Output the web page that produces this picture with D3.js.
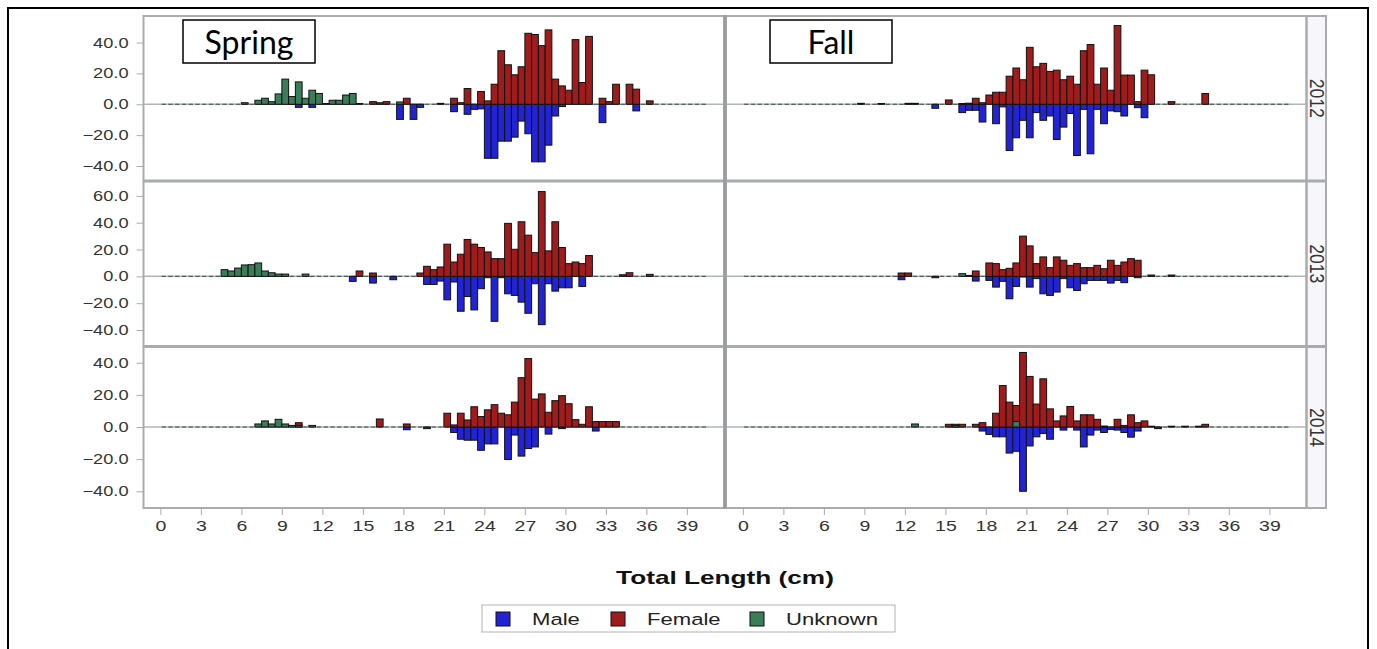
<!DOCTYPE html>
<html>
<head>
<meta charset="utf-8">
<script src="https://cdn.jsdelivr.net/npm/d3@7"></script>
<style>
  body { margin: 0; background: #fff; }
  svg { display: block; font-family: "Liberation Sans", Arial, sans-serif; }
</style>
</head>
<body>
<svg id="chart" width="1377" height="649"></svg>
<script>
// length bins (cm), 0.5 cm wide
const lengths = d3.range(0, 40.5, 0.5);
const seasons = ["Spring", "Fall"];
const years = ["2012", "2013", "2014"];
const sexes = ["Male", "Female", "Unknown"];
const sexColors = ["#2323d6", "#a01c1c", "#3b7d5b"];
const xTicks = [0, 3, 6, 9, 12, 15, 18, 21, 24, 27, 30, 33, 36, 39];
const yTicks2012 = [40, 20, 0, -20, -40];
const yTicks2013 = [60, 40, 20, 0, -20, -40];
const yTicks2014 = [40, 20, 0, -20, -40];

// [length, value] for the non-empty bins
const springMale2012 = [[10,-2],[11,-2],[17.5,-9.8],[18.5,-9.8],[19,-2],[21.5,-4.8],[22.5,-6.5],[23,-3.3],[23.5,-3],[24,-35],[24.5,-35],[25,-23.9],[25.5,-23.9],[26,-21.3],[26.5,-10.9],[27,-19.1],[27.5,-37.3],[28,-37.3],[28.5,-26.5],[29,-7.6],[29.5,-1.5],[32.5,-11.9],[35,-4.3]];
const springFemale2012 = [[9.5,4.3],[15.5,1.7],[16,1],[16.5,1.7],[18,3.9],[20.5,0.6],[21.5,3.9],[22,1],[22.5,10.2],[23.5,8.3],[24,2.2],[24.5,13],[25,34.7],[25.5,25.6],[26,19.1],[26.5,24.3],[27,46],[27.5,45.2],[28,38],[28.5,48.2],[29,16.3],[29.5,11.9],[30,9.1],[30.5,41.9],[31,14.1],[31.5,44],[32.5,3.9],[33,1.7],[33.5,13],[34.5,13],[35,9.8],[36,2.2]];
const springUnknown2012 = [[6,1],[7,2.6],[7.5,3.9],[8,1.7],[8.5,6.7],[9,16.3],[9.5,5],[10,14.5],[10.5,3.9],[11,9.1],[11.5,7],[12,0.5],[12.5,2.6],[13,2.6],[13.5,6],[14,7],[14.5,0.5],[17.5,1.5]];

const fallMale2012 = [[14,-2.6],[16,-5.4],[16.5,-3.9],[17,-3.9],[17.5,-11.5],[18.5,-12.6],[19,-1.7],[19.5,-30],[20,-21.7],[20.5,-10.4],[21,-21.7],[21.5,-5.4],[22,-10.4],[22.5,-7.6],[23,-22.8],[23.5,-14.8],[24,-6],[24.5,-33.2],[25,-3.3],[25.5,-32.1],[26,-3.3],[26.5,-12.6],[27,-4.3],[27.5,-4.8],[28,-7.6],[29,-2.2],[29.5,-8.7]];
const fallFemale2012 = [[8.5,0.6],[10,0.5],[12,0.6],[12.5,0.6],[15,2.8],[16,0.5],[16.5,0.7],[17,3.9],[17.5,1],[18,6],[18.5,7.8],[19,7.8],[19.5,18.2],[20,23.5],[20.5,15.9],[21,36.9],[21.5,24.3],[22,26.5],[22.5,21.3],[23,22.1],[23.5,15.9],[24,18.2],[24.5,13],[25,34.7],[25.5,38.7],[26,13],[26.5,23.5],[27,9.1],[27.5,51],[28,18.9],[28.5,18.9],[29,1.7],[29.5,22.1],[30,19.1],[31.5,1.7],[34,7]];
const fallUnknown2012 = [];

const springMale2013 = [[14,-3.75],[15.5,-5],[17,-2.5],[19.5,-6],[20,-6],[20.5,-3.5],[21,-17.5],[21.5,-4.2],[22,-26],[22.5,-15],[23,-25],[23.5,-9.2],[24,-1],[24.5,-33.5],[25,-1],[25.5,-13],[26,-14.2],[26.5,-19.2],[27,-27.5],[27.5,-5.5],[28,-36],[28.5,-5.5],[29,-11],[29.5,-8.5],[30,-8.5],[31,-7.5]];
const springFemale2013 = [[14.5,4],[15.5,2.5],[19,2.5],[19.5,7.5],[20,5],[20.5,7],[21,24],[21.5,10.7],[22,16.5],[22.5,27.5],[23,24],[23.5,21.5],[24,18.2],[24.5,13.2],[25,13.2],[25.5,39.5],[26,20.2],[26.5,40.7],[27,30.7],[27.5,17.7],[28,63.2],[28.5,19],[29,40.7],[29.5,21.5],[30,9.5],[30.5,10.7],[31,9.5],[31.5,15.5],[34,1.2],[34.5,2.7],[36,1.5]];
const springUnknown2013 = [[4.5,5],[5,4],[5.5,6.2],[6,8.5],[6.5,8.7],[7,10],[7.5,4],[8,2.7],[8.5,1.7],[9,1.7],[10.5,1.7]];

const fallMale2013 = [[11.5,-2.5],[14,-1],[17,-3.5],[18,-3],[18.5,-8],[19,-3.7],[19.5,-16.7],[20,-7.5],[20.5,-0.5],[21,-8],[21.5,-1.7],[22,-13],[22.5,-14.2],[23,-11.7],[23.5,-1.7],[24,-8.5],[24.5,-10.5],[25,-5.5],[25.5,-3],[26,-3],[26.5,-3],[27,-5],[27.5,-3],[28,-4.7],[29,-1]];
const fallFemale2013 = [[11.5,2.5],[12,2.5],[16.5,0.7],[17,4],[18,10],[18.5,9.5],[19,5],[19.5,6],[20,10],[20.5,30],[21,22.7],[21.5,9.5],[22,14.5],[22.5,6.5],[23,14.5],[23.5,12],[24,8.2],[24.5,9.5],[25,6.5],[25.5,6.5],[26,8.2],[26.5,5.7],[27,12],[27.5,8.2],[28,10.7],[28.5,13.2],[29,12],[30,1],[31.5,1]];
const fallUnknown2013 = [[16,2]];

const springMale2014 = [[18,-1.7],[19.5,-1],[21.5,-3.4],[22,-7.6],[22.5,-8.2],[23,-8.2],[23.5,-14.5],[24,-10.5],[24.5,-10.5],[25.5,-20.2],[26,-5],[26.5,-18.1],[27,-13.4],[27.5,-12.4],[28.5,-4.4],[29.5,-1],[32,-2.5]];
const springFemale2014 = [[10,2.7],[16,5],[18,1.9],[21,8.6],[21.5,1.3],[22,8.6],[22.5,4.4],[23,12.6],[23.5,6.5],[24,10.7],[24.5,13.9],[25,8.6],[25.5,7.6],[26,15.5],[26.5,30.7],[27,42.6],[27.5,17.4],[28,20.6],[28.5,9.2],[29,16.4],[29.5,19.5],[30,14.5],[30.5,4.6],[31,1.7],[31.5,12.6],[32,3.4],[32.5,3.4],[33,3.4],[33.5,3.4]];
const springUnknown2014 = [[7,1.9],[7.5,3.8],[8,1.9],[8.5,4.8],[9,1.9],[9.5,1],[10,1],[11,1]];

const fallMale2014 = [[17.5,-2.5],[18,-4.6],[18.5,-6.1],[19,-6.1],[19.5,-16.2],[20,-15.1],[20.5,-40],[21,-11.8],[21.5,-6.1],[22,-4],[22.5,-7.6],[23.5,-1.9],[24.5,-1.9],[25,-12.4],[25.5,-5],[26,-1.9],[26.5,-3.4],[27,-1.5],[27.5,-1.9],[28,-3.4],[28.5,-6.3],[29,-2.5],[30.5,-1]];
const fallFemale2014 = [[15,1.7],[15.5,1.7],[16,1.7],[17,1.7],[17.5,2.7],[18.5,8.6],[19,25.8],[19.5,15.5],[20,13.4],[20.5,46.4],[21,31.5],[21.5,14.3],[22,30],[22.5,11.3],[23,3.8],[23.5,6.9],[24,12.8],[24.5,3.8],[25,7.6],[25.5,7.6],[26,4.8],[26.5,0.6],[27.5,4.8],[28,1],[28.5,7.6],[29,2.7],[29.5,3.8],[30,0.5],[31.5,0.5],[32.5,0.5],[33.5,0.5],[34,1.7]];
const fallUnknown2014 = [[12.5,1.9],[15.5,1],[20,3.4]];

// panel lookup: season -> year -> [male, female, unknown]
const panelData = {
  Spring: {
    "2012": [springMale2012, springFemale2012, springUnknown2012],
    "2013": [springMale2013, springFemale2013, springUnknown2013],
    "2014": [springMale2014, springFemale2014, springUnknown2014]
  },
  Fall: {
    "2012": [fallMale2012, fallFemale2012, fallUnknown2012],
    "2013": [fallMale2013, fallFemale2013, fallUnknown2013],
    "2014": [fallMale2014, fallFemale2014, fallUnknown2014]
  }
};

const svg = d3.select("#chart");
const gridColor = "#a9abad";
// the source picture is stretched sideways, so the text is too
const stretch = 1.3;

// outer frame
svg.append("rect")
  .attr("x", 8).attr("y", 8)
  .attr("width", 1360).attr("height", 660)
  .attr("fill", "#fff")
  .attr("stroke", "#000")
  .attr("stroke-width", 2);

const colExtent = [[143.5, 724], [726, 1306.5]];
const rowExtent = [[16, 180.5], [181.5, 346], [347, 508]];
const rowDomains = [[-49.4, 57.2], [-51.9, 70.7], [-50.4, 49.8]];
const rowTicks = [yTicks2012, yTicks2013, yTicks2014];

const xScales = colExtent.map(c => d3.scaleLinear().domain([-1.25, 41.75]).range(c));
const yScales = rowExtent.map((r, i) => d3.scaleLinear().domain(rowDomains[i]).range([r[1], r[0]]));

// strip column for the year labels
svg.append("rect")
  .attr("x", 1306.5).attr("y", 16)
  .attr("width", 19.5).attr("height", 492)
  .attr("fill", "#f6f6fb");

years.forEach((year, ri) => {
  const ys = yScales[ri];
  const r = rowExtent[ri];

  seasons.forEach((season, ci) => {
    const xs = xScales[ci];
    const g = svg.append("g");
    const y0 = ys(0);

    // zero reference line
    g.append("line")
      .attr("x1", colExtent[ci][0]).attr("x2", colExtent[ci][1])
      .attr("y1", y0).attr("y2", y0)
      .attr("stroke", "#b4b6b8")
      .attr("stroke-width", 1.5);

    // empty bins show as short dashes on the baseline
    g.selectAll(".dash")
      .data(lengths)
      .enter()
      .append("line")
      .attr("x1", d => xs(d) + 1.2)
      .attr("x2", d => xs(d + 0.5) - 1.2)
      .attr("y1", y0).attr("y2", y0)
      .attr("stroke", "#3d5f50")
      .attr("stroke-width", 1.2);

    panelData[season][year].forEach((series, si) => {
      g.selectAll(".bar" + si)
        .data(series)
        .enter()
        .append("rect")
        .attr("x", d => xs(d[0]))
        .attr("width", d => xs(d[0] + 0.5) - xs(d[0]))
        .attr("y", d => ys(Math.max(d[1], 0)))
        .attr("height", d => Math.abs(ys(d[1]) - y0))
        .attr("fill", sexColors[si])
        .attr("stroke", "#111")
        .attr("stroke-width", 1);
    });

    // cell border
    svg.append("rect")
      .attr("x", colExtent[ci][0]).attr("y", r[0])
      .attr("width", colExtent[ci][1] - colExtent[ci][0])
      .attr("height", r[1] - r[0])
      .attr("fill", "none")
      .attr("stroke", gridColor)
      .attr("stroke-width", 2);
  });

  // y axis on the left column
  const yAxis = svg.append("g")
    .attr("transform", "translate(" + colExtent[0][0] + ",0)")
    .call(d3.axisLeft(ys).tickValues(rowTicks[ri]).tickFormat(d3.format(".1f")).tickSize(7));
  yAxis.select(".domain").remove();
  yAxis.selectAll("line").attr("stroke", gridColor);
  yAxis.selectAll("text")
    .attr("x", -15 / stretch)
    .attr("transform", "scale(" + stretch + ",1)")
    .attr("fill", "#333")
    .style("font-size", "14px")
    .style("font-family", "'Liberation Sans', Arial, sans-serif");

  // year strip label
  svg.append("rect")
    .attr("x", 1306.5).attr("y", r[0])
    .attr("width", 19.5).attr("height", r[1] - r[0])
    .attr("fill", "none")
    .attr("stroke", gridColor)
    .attr("stroke-width", 2);
  const cy = (r[0] + r[1]) / 2;
  svg.append("text")
    .attr("transform", "translate(1310," + cy + ") rotate(90) scale(1.1," + stretch + ")")
    .attr("text-anchor", "middle")
    .attr("fill", "#333")
    .style("font-size", "16px")
    .text(year);
});

// column divider
svg.append("line")
  .attr("x1", 725).attr("x2", 725)
  .attr("y1", 15).attr("y2", 509)
  .attr("stroke", "#9a9c9e")
  .attr("stroke-width", 3);

// x axes
xScales.forEach(xs => {
  const ax = svg.append("g")
    .attr("transform", "translate(0,508)")
    .call(d3.axisBottom(xs).tickValues(xTicks).tickFormat(d3.format("d")).tickSize(7).tickPadding(5));
  ax.select(".domain").remove();
  ax.selectAll("line").attr("stroke", gridColor);
  ax.selectAll("text")
    .attr("transform", "scale(" + stretch + ",1)")
    .attr("fill", "#333")
    .style("font-size", "15px")
    .style("font-family", "'Liberation Sans', Arial, sans-serif");
});

// axis title
svg.append("text")
  .attr("transform", "translate(725,584) scale(1.38,1)")
  .attr("text-anchor", "middle")
  .attr("font-weight", "bold")
  .attr("fill", "#111")
  .style("font-size", "19px")
  .text("Total Length (cm)");

// season labels
const seasonBoxes = [{x: 183, w: 132}, {x: 770, w: 122}];
seasons.forEach((season, i) => {
  const b = seasonBoxes[i];
  svg.append("rect")
    .attr("x", b.x).attr("y", 20)
    .attr("width", b.w).attr("height", 43)
    .attr("fill", "#fff")
    .attr("stroke", "#000")
    .attr("stroke-width", 1.5);
  svg.append("text")
    .attr("x", b.x + b.w / 2).attr("y", 54)
    .attr("text-anchor", "middle")
    .attr("fill", "#000")
    .style("font-family", "Lato, 'Open Sans', sans-serif")
    .style("font-size", "32px")
    .text(season);
});

// legend
const legend = svg.append("g");
legend.append("rect")
  .attr("x", 482).attr("y", 605)
  .attr("width", 413).attr("height", 27)
  .attr("fill", "#fff")
  .attr("stroke", "#b0b2b4")
  .attr("stroke-width", 1);
const legendX = [496, 611, 750];
sexes.forEach((s, i) => {
  legend.append("rect")
    .attr("x", legendX[i]).attr("y", 612)
    .attr("width", 14).attr("height", 14)
    .attr("fill", sexColors[i])
    .attr("stroke", "#111")
    .attr("stroke-width", 1);
  legend.append("text")
    .attr("transform", "translate(" + (legendX[i] + 36) + ",625) scale(" + stretch + ",1)")
    .attr("fill", "#222")
    .style("font-size", "17px")
    .text(s);
});
</script>
</body>
</html>
